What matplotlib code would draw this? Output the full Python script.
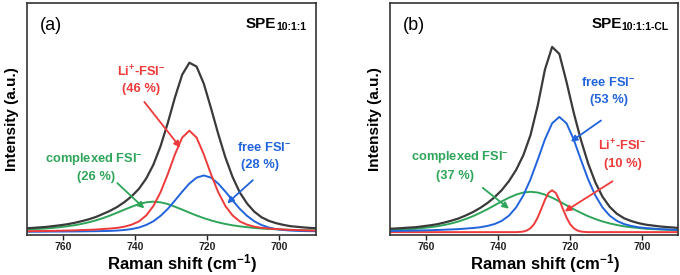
import matplotlib.pyplot as plt

plt.rcParams['font.family'] = ['Liberation Sans', 'DejaVu Sans']
plt.rcParams['mathtext.fontset'] = 'custom'
plt.rcParams['mathtext.rm'] = 'Liberation Sans'
plt.rcParams['mathtext.bf'] = 'Liberation Sans:bold'
plt.rcParams['mathtext.it'] = 'Liberation Sans:italic'

# Raman shift grid (cm-1), 771 -> 689
shift = list(range(771, 688, -2))

# panel (a): SPE 10:1:1  (intensity in arbitrary units)
a_total = [0.022, 0.024, 0.027, 0.030, 0.035, 0.040, 0.046, 0.054, 0.064, 0.075,
           0.089, 0.107, 0.126, 0.149, 0.178, 0.212, 0.256, 0.316, 0.398, 0.508,
           0.645, 0.797, 0.931, 1.002, 0.979, 0.878, 0.733, 0.581, 0.441, 0.325,
           0.234, 0.169, 0.121, 0.088, 0.067, 0.053, 0.043, 0.035, 0.031, 0.027,
           0.024, 0.022]
a_li = [0.005, 0.0055, 0.006, 0.0067, 0.007, 0.008, 0.009, 0.010, 0.012, 0.013,
        0.015, 0.018, 0.021, 0.025, 0.032, 0.044, 0.063, 0.098, 0.154, 0.236,
        0.342, 0.460, 0.559, 0.600, 0.559, 0.460, 0.342, 0.236, 0.154, 0.098,
        0.063, 0.044, 0.032, 0.025, 0.021, 0.018, 0.015, 0.013, 0.012, 0.010,
        0.009, 0.008]
a_free = [0.002, 0.002, 0.002, 0.0025, 0.003, 0.003, 0.0034, 0.0037, 0.004, 0.0047,
          0.0053, 0.006, 0.007, 0.009, 0.0125, 0.018, 0.027, 0.042, 0.064, 0.096,
          0.137, 0.187, 0.239, 0.287, 0.322, 0.335, 0.322, 0.287, 0.239, 0.187,
          0.137, 0.096, 0.064, 0.042, 0.027, 0.018, 0.0125, 0.009, 0.007, 0.006,
          0.0053, 0.0047]
a_cplx = [0.015, 0.0165, 0.019, 0.021, 0.0245, 0.029, 0.034, 0.040, 0.048, 0.0575,
          0.069, 0.0825, 0.098, 0.115, 0.133, 0.150, 0.166, 0.176, 0.180, 0.176,
          0.166, 0.150, 0.133, 0.115, 0.098, 0.0825, 0.069, 0.0575, 0.048, 0.040,
          0.034, 0.029, 0.0245, 0.021, 0.019, 0.0165, 0.015, 0.0133, 0.012, 0.011,
          0.010, 0.0093]

# panel (b): SPE 10:1:1-CL
b_total = [0.017, 0.019, 0.021, 0.024, 0.026, 0.031, 0.036, 0.042, 0.051, 0.061,
           0.073, 0.089, 0.107, 0.129, 0.155, 0.186, 0.224, 0.272, 0.332, 0.410,
           0.518, 0.675, 0.866, 0.987, 0.950, 0.801, 0.637, 0.492, 0.367, 0.266,
           0.189, 0.135, 0.098, 0.074, 0.059, 0.048, 0.040, 0.035, 0.030, 0.027,
           0.024, 0.021]
b_free = [0.0058, 0.0064, 0.0069, 0.0076, 0.0083, 0.0092, 0.0102, 0.0114, 0.0128, 0.0145,
          0.016, 0.019, 0.022, 0.026, 0.033, 0.043, 0.060, 0.088, 0.132, 0.196,
          0.282, 0.386, 0.494, 0.580, 0.614, 0.580, 0.494, 0.386, 0.282, 0.196,
          0.132, 0.088, 0.060, 0.043, 0.033, 0.026, 0.022, 0.019, 0.016, 0.0145,
          0.0128, 0.0114]
b_cplx = [0.011, 0.0125, 0.014, 0.016, 0.018, 0.022, 0.026, 0.031, 0.038, 0.0465,
          0.057, 0.070, 0.085, 0.103, 0.122, 0.143, 0.164, 0.1835, 0.200, 0.211,
          0.215, 0.211, 0.200, 0.1835, 0.164, 0.143, 0.122, 0.103, 0.085, 0.070,
          0.057, 0.0465, 0.038, 0.031, 0.026, 0.022, 0.018, 0.016, 0.014, 0.0125,
          0.011, 0.010]
b_li_shift = [771, 735, 734, 733, 732, 731, 730, 729, 728, 727, 726, 725, 724,
              723, 722, 721, 720, 719, 718, 717, 716, 715, 689]
b_li = [0, 0, 0.001, 0.003, 0.009, 0.021, 0.043, 0.078, 0.124, 0.172, 0.209,
        0.223, 0.209, 0.172, 0.124, 0.078, 0.043, 0.021, 0.009, 0.003, 0.001,
        0, 0]

ticks = [760, 740, 720, 700]

c_tot = '#3a3a3a'
c_red = '#ee3a3a'
c_blue = '#2264dc'
c_green = '#2fa55a'

fig = plt.figure(figsize=(6.8, 2.75), dpi=100)
ax1 = fig.add_axes([0.040, 0.145, 0.424, 0.844])
ax2 = fig.add_axes([0.574, 0.145, 0.423, 0.844])


def style(ax, ymin, ymax):
    ax.set_xlim(770, 690)
    ax.set_ylim(ymin, ymax)
    ax.set_xticks(ticks)
    ax.set_yticks([])
    ax.tick_params(axis='x', direction='out', length=3.5, width=1.0,
                   labelsize=7.5, pad=1.5, colors='#222222')
    for lab in ax.get_xticklabels():
        lab.set_fontweight('bold')
    for s in ax.spines.values():
        s.set_linewidth(1.2)
        s.set_color('#333333')
    ax.set_xlabel('Raman shift (cm$^{\\mathbf{-1}}$)', fontsize=12,
                  fontweight='bold')
    ax.xaxis.set_label_coords(0.538, -0.072)
    ax.set_ylabel('Intensity (a.u.)', fontsize=11, fontweight='bold')
    ax.yaxis.set_label_coords(-0.03, 0.5)


def title(ax, main, sub):
    s = ax.text(0.968, 0.885, sub, transform=ax.transAxes, fontsize=7.5,
                fontweight='bold', ha='right', va='baseline')
    ax.annotate(main, xy=(0, 0), xycoords=s, xytext=(0, 3),
                textcoords='offset points', fontsize=11, fontweight='bold',
                ha='right', va='baseline')


def note(ax, text, xy, color):
    ax.text(xy[0], xy[1], text, color=color, fontsize=9.3, fontweight='bold',
            ha='center', va='center')


def arrow(ax, start, end, color):
    ax.annotate('', xy=end, xytext=start,
                arrowprops=dict(arrowstyle='-|>', color=color, lw=1.3,
                                mutation_scale=9, shrinkA=0, shrinkB=0))


# (a)
ax1.plot(shift, a_cplx, color=c_green, lw=1.4)
ax1.plot(shift, a_free, color=c_blue, lw=1.4)
ax1.plot(shift, a_li, color=c_red, lw=1.4)
ax1.plot(shift, a_total, color=c_tot, lw=1.6)
style(ax1, -0.018, 1.355)
ax1.text(0.044, 0.905, '(a)', transform=ax1.transAxes, fontsize=13,
         va='center', ha='left')
title(ax1, 'SPE', '10:1:1')
note(ax1, 'Li$^{\\mathbf{+}}$-FSI$^{\\mathbf{-}}$', (738.3, 0.945), c_red)
note(ax1, '(46 %)', (738.3, 0.845), c_red)
arrow(ax1, (737.5, 0.77), (727.5, 0.50), c_red)
note(ax1, 'free FSI$^{\\mathbf{-}}$', (704.2, 0.494), c_blue)
note(ax1, '(28 %)', (705.3, 0.396), c_blue)
arrow(ax1, (707.4, 0.307), (714.5, 0.17), c_blue)
note(ax1, 'complexed FSI$^{\\mathbf{-}}$', (751.4, 0.425), c_green)
note(ax1, '(26 %)', (751.0, 0.325), c_green)
arrow(ax1, (745.0, 0.29), (737.5, 0.14), c_green)

# (b)
ax2.plot(shift, b_cplx, color=c_green, lw=1.4)
ax2.plot(b_li_shift, b_li, color=c_red, lw=1.4)
ax2.plot(shift, b_free, color=c_blue, lw=1.4)
ax2.plot(shift, b_total, color=c_tot, lw=1.6)
style(ax2, -0.016, 1.221)
ax2.text(0.044, 0.905, '(b)', transform=ax2.transAxes, fontsize=13,
         va='center', ha='left')
title(ax2, 'SPE', '10:1:1-CL')
note(ax2, 'free FSI$^{\\mathbf{-}}$', (709.3, 0.793), c_blue)
note(ax2, '(53 %)', (709.1, 0.703), c_blue)
arrow(ax2, (711.4, 0.595), (719.8, 0.482), c_blue)
note(ax2, 'Li$^{\\mathbf{+}}$-FSI$^{\\mathbf{-}}$', (705.4, 0.459), c_red)
note(ax2, '(10 %)', (705.4, 0.362), c_red)
arrow(ax2, (708.2, 0.271), (721.5, 0.110), c_red)
note(ax2, 'complexed FSI$^{\\mathbf{-}}$', (750.5, 0.394), c_green)
note(ax2, '(37 %)', (752.1, 0.298), c_green)
arrow(ax2, (744.3, 0.236), (737.0, 0.125), c_green)

fig.savefig('out.png', dpi=100)
